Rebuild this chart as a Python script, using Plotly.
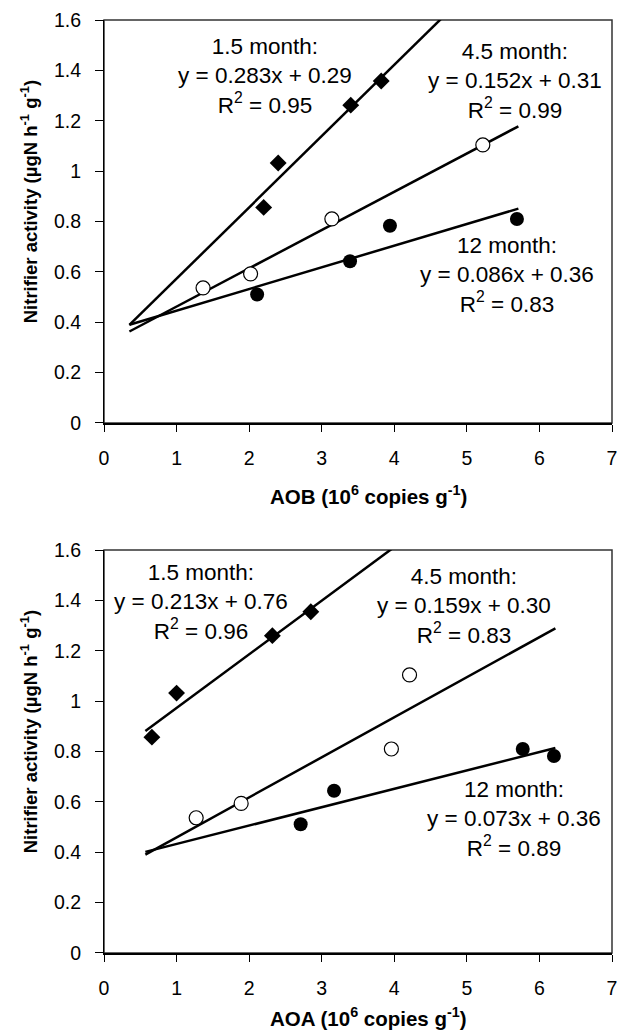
import plotly.graph_objects as go
from plotly.subplots import make_subplots

# ---------------- data ----------------
series_names = ["1.5 month", "4.5 month", "12 month"]

aob_x_15 = [2.20, 2.40, 3.40, 3.82]
aob_y_15 = [0.856, 1.032, 1.262, 1.358]
aob_x_45 = [1.365, 2.02, 3.14, 5.22]
aob_y_45 = [0.536, 0.592, 0.810, 1.104]
aob_x_12 = [2.11, 3.39, 3.94, 5.69]
aob_y_12 = [0.510, 0.642, 0.783, 0.810]

aoa_x_15 = [0.66, 1.00, 2.32, 2.85]
aoa_y_15 = [0.857, 1.032, 1.260, 1.355]
aoa_x_45 = [1.27, 1.89, 3.96, 4.21]
aoa_y_45 = [0.537, 0.594, 0.810, 1.104]
aoa_x_12 = [2.71, 3.17, 5.77, 6.20]
aoa_y_12 = [0.511, 0.644, 0.810, 0.782]

# trend line equations (slope, intercept) and x-extent
aob_slope = [0.283, 0.152, 0.086]
aob_icept = [0.29, 0.31, 0.36]
aob_icept_txt = ["0.29", "0.31", "0.36"]
aob_r2 = ["0.95", "0.99", "0.83"]
aob_xrange = [[0.35, 4.75], [0.35, 5.71], [0.35, 5.71]]

aoa_slope = [0.213, 0.159, 0.073]
aoa_icept = [0.76, 0.30, 0.36]
aoa_icept_txt = ["0.76", "0.30", "0.36"]
aoa_r2 = ["0.96", "0.83", "0.89"]
aoa_xrange = [[0.57, 4.05], [0.57, 6.22], [0.57, 6.22]]

# label anchor positions (data coords)
aob_label_pos = [(2.22, 1.378), (5.66, 1.358), (5.55, 0.589)]
aoa_label_pos = [(1.34, 1.392), (4.96, 1.379), (5.65, 0.534)]

x_ticks = [0, 1, 2, 3, 4, 5, 6, 7]
y_ticks = [0, 0.2, 0.4, 0.6, 0.8, 1, 1.2, 1.4, 1.6]
y_ticktext = ["0", "0.2", "0.4", "0.6", "0.8", "1", "1.2", "1.4", "1.6"]

# ---------------- figure ----------------
W, H = 623, 1032
ML, MR, MT, MB = 104, 6, 20, 79
FONT = "Arial, Liberation Sans, sans-serif"

fig = make_subplots(rows=2, cols=1, vertical_spacing=0.0)
fig.update_layout(
    xaxis=dict(domain=[0, 1]), yaxis=dict(domain=[0.5681, 1.0]),
    xaxis2=dict(domain=[0, 1]), yaxis2=dict(domain=[0.0, 0.4319]),
)

marker_styles = [
    dict(symbol="diamond", size=13, color="black", line=dict(color="black", width=0)),
    dict(symbol="circle", size=14, color="white", line=dict(color="black", width=1.2)),
    dict(symbol="circle", size=14, color="black", line=dict(color="black", width=0)),
]

panels = [
    (1, [(aob_x_15, aob_y_15), (aob_x_45, aob_y_45), (aob_x_12, aob_y_12)],
     aob_slope, aob_icept, aob_icept_txt, aob_r2, aob_xrange, aob_label_pos),
    (2, [(aoa_x_15, aoa_y_15), (aoa_x_45, aoa_y_45), (aoa_x_12, aoa_y_12)],
     aoa_slope, aoa_icept, aoa_icept_txt, aoa_r2, aoa_xrange, aoa_label_pos),
]

for row, pts, slopes, icepts, icept_txt, r2s, xr, lpos in panels:
    for i in range(3):
        x0, x1 = xr[i]
        fig.add_trace(go.Scatter(
            x=[x0, x1], y=[slopes[i] * x0 + icepts[i], slopes[i] * x1 + icepts[i]],
            mode="lines", line=dict(color="black", width=2.5),
            showlegend=False, hoverinfo="skip"), row=row, col=1)
    for i in range(3):
        fig.add_trace(go.Scatter(
            x=pts[i][0], y=pts[i][1], mode="markers", marker=marker_styles[i],
            name=series_names[i], showlegend=False, cliponaxis=False), row=row, col=1)
    xref = "x" if row == 1 else "x2"
    yref = "y" if row == 1 else "y2"
    for i in range(3):
        txt = (f"{series_names[i]}:<br>y = {slopes[i]:.3f}x + {icept_txt[i]}"
               f"<br>R<sup>2</sup> = {r2s[i]}")
        fig.add_annotation(x=lpos[i][0], y=lpos[i][1], xref=xref, yref=yref,
                           text=txt, showarrow=False, align="center",
                           xanchor="center", yanchor="middle",
                           font=dict(family=FONT, size=22.5, color="black"))
    # frame (top/right border)
    fig.add_shape(type="rect", xref=f"{xref} domain", yref=f"{yref} domain",
                  x0=0, x1=1, y0=0, y1=1, line=dict(color="#333", width=1.5),
                  layer="below")

axis_font = dict(family=FONT, size=19.5, color="black")
for r in (1, 2):
    fig.update_xaxes(range=[0, 7], tickvals=x_ticks, ticks="outside", ticklen=7,
                     tickwidth=1.2, tickcolor="black", showline=True,
                     linecolor="black", linewidth=2, showgrid=False,
                     zeroline=False, tickfont=axis_font, ticklabelstandoff=10,
                     row=r, col=1)
    fig.update_yaxes(range=[0, 1.6], tickvals=y_ticks, ticktext=y_ticktext,
                     ticks="outside", ticklen=8, tickwidth=1.2, tickcolor="black",
                     showline=True, linecolor="black", linewidth=1.2,
                     showgrid=False, zeroline=False, tickfont=axis_font,
                     ticklabelstandoff=10, row=r, col=1)

ytitle = "<b>Nitrifier activity (µgN h<sup>-1</sup> g<sup>-1</sup>)</b>"
plot_h = H - MT - MB
plot_w = W - ML - MR


def px_to_paper_x(px):
    return (px - ML) / plot_w


def px_to_paper_y(py):
    return (H - MB - py) / plot_h


for cy in (201.5, 731.5):
    fig.add_annotation(x=px_to_paper_x(28), y=px_to_paper_y(cy), xref="paper",
                       yref="paper", text=ytitle, textangle=-90, showarrow=False,
                       xanchor="center", yanchor="middle",
                       font=dict(family=FONT, size=18.5, color="black"))

for ty, lab in ((495, "AOB"), (1017, "AOA")):
    fig.add_annotation(x=px_to_paper_x(270), y=px_to_paper_y(ty), xref="paper",
                       yref="paper",
                       text=f"<b>{lab} (10<sup>6</sup> copies g<sup>-1</sup>)</b>",
                       showarrow=False, xanchor="left", yanchor="middle",
                       font=dict(family=FONT, size=20.5, color="black"))

fig.update_layout(
    width=W, height=H, margin=dict(l=ML, r=MR, t=MT, b=MB),
    paper_bgcolor="white", plot_bgcolor="white", showlegend=False,
    font=dict(family=FONT, color="black"),
)

fig.write_html("out.html")
